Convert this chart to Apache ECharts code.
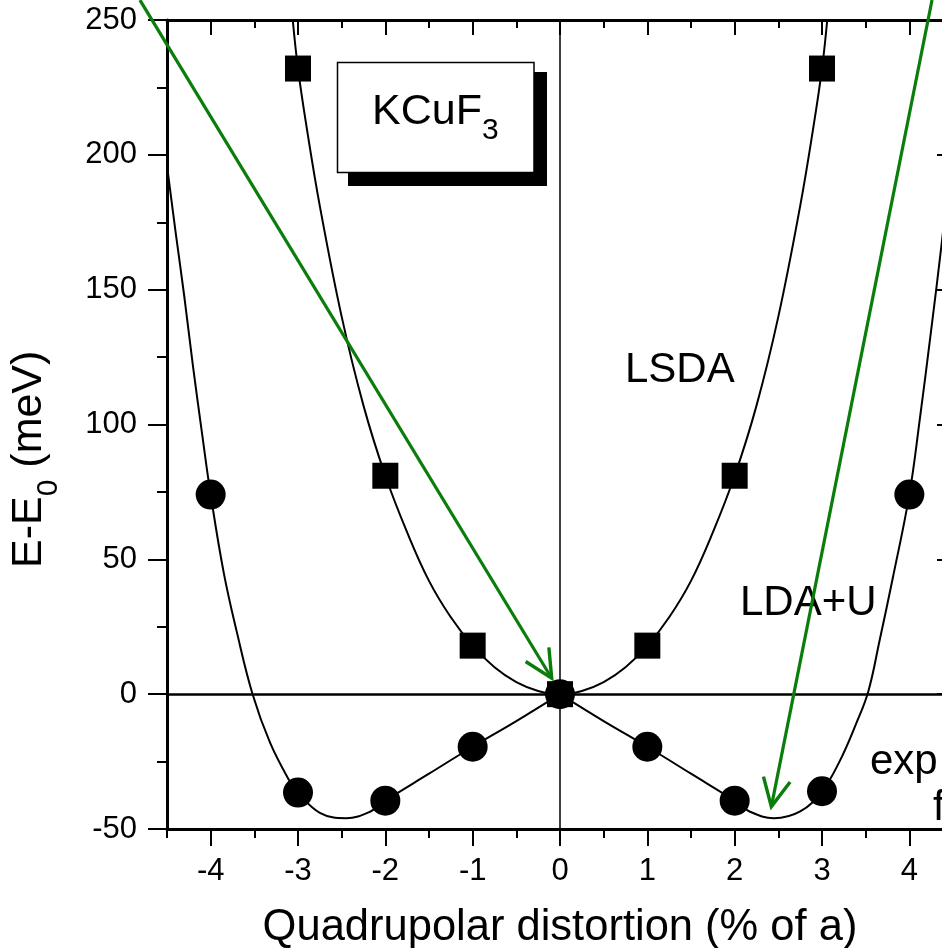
<!DOCTYPE html>
<html>
<head>
<meta charset="utf-8">
<script src="https://cdn.jsdelivr.net/npm/echarts@6/dist/echarts.min.js"></script>
<style>
html,body{margin:0;padding:0;background:#fff;}
#c{width:942px;height:948px;}
</style>
</head>
<body>
<div id="c"></div>
<script>
// ---- data ----
const xTickValues = [-4, -3, -2, -1, 0, 1, 2, 3, 4];

const lsdaX = [-3, -2, -1, 0, 1, 2, 3];
const lsdaE = [232, 81, 18, 0, 18, 81, 232];

const ldauX = [-4, -3, -2, -1, 0, 1, 2, 3, 4];
const ldauE = [74, -36.5, -39.5, -19.5, 0, -19.5, -39.5, -36, 74];

const lsdaFitX = [-3.06, -3, -2.9, -2.75, -2.5, -2.25, -2, -1.75, -1.5, -1.25, -1, -0.75, -0.5, -0.25, 0,
                  0.25, 0.5, 0.75, 1, 1.25, 1.5, 1.75, 2, 2.25, 2.5, 2.75, 2.9, 3, 3.06];
const lsdaFitE = [250, 232, 210, 181, 140, 107, 81, 60, 42, 28.5, 18, 10, 4.5, 1.2, 0,
                  1.2, 4.5, 10, 18, 28.5, 42, 60, 81, 107, 140, 181, 210, 232, 250];

const ldauFitX = [-4.5, -4.4, -4.3, -4.2, -4.1, -4.0, -3.85, -3.7, -3.52, -3.32, -3.1, -3.0, -2.75, -2.45, -2.17, -2.0,
                  -1.5, -1.0, -0.5, 0, 0.5, 1.0, 1.5,
                  2.0, 2.17, 2.45, 2.75, 3.0, 3.2, 3.39, 3.53, 3.66, 3.81, 4.0, 4.12, 4.25, 4.37, 4.5];
const ldauFitE = [196, 171, 147, 121, 97, 74, 45, 23, 0, -18, -32, -36.5, -44, -46, -43.5, -39.5,
                  -29.5, -19.5, -10, 0, -10, -19.5, -29.5,
                  -39.5, -43.5, -46, -43.5, -36, -25, -11, 1, 20, 43, 74, 102, 135, 167, 205];

const arrowFrom = [[-4.81, 257.4], [4.26, 257.4]];
const arrowTo = [[-0.095, 5.9], [2.42, -41.7]];

// ---- chart ----
const F = "'Liberation Sans', Arial, Helvetica, sans-serif";
const GREEN = '#0a7d0a';
const chart = echarts.init(document.getElementById('c'), null, {renderer: 'canvas'});

const zip = (xs, ys) => xs.map((x, i) => [x, ys[i]]);
const ldauFit = zip(ldauFitX, ldauFitE);
const ldauFitLeft = ldauFit.filter(p => p[0] <= 0);
const ldauFitRight = ldauFit.filter(p => p[0] >= 0);

const xAxisBase = {
  type: 'value', min: -4.5, max: 4.5, interval: 1,
  splitLine: {show: false}, minorSplitLine: {show: false},
  axisLine: {show: true, onZero: false, lineStyle: {color: '#000', width: 3}}
};
const yAxisBase = {
  type: 'value', min: -50, max: 250, interval: 50,
  splitLine: {show: false}, minorSplitLine: {show: false},
  axisLine: {show: true, onZero: false, lineStyle: {color: '#000', width: 3}}
};

const fitLine = (name, data) => ({
  name: name, type: 'line', xAxisIndex: 0, yAxisIndex: 0,
  data: data, smooth: 0.4, showSymbol: false, symbol: 'none',
  lineStyle: {color: '#000', width: 2}, z: 2, clip: true
});

const lsdaFitSeries = fitLine('LSDA fit', zip(lsdaFitX, lsdaFitE));
lsdaFitSeries.markLine = {
  silent: true, symbol: ['none', 'none'], label: {show: false},
  data: [
    {yAxis: 0, lineStyle: {color: '#000', width: 2.5, type: 'solid'}},
    {xAxis: 0, lineStyle: {color: '#000', width: 1.5, type: 'solid'}}
  ]
};

chart.setOption({
  animation: false,
  backgroundColor: '#fff',
  grid: {left: 167, width: 786, top: 20, bottom: 119, containLabel: false, outerBoundsMode: 'none'},
  xAxis: [
    Object.assign({}, xAxisBase, {
      position: 'bottom',
      axisTick: {show: true, inside: false, length: 9, lineStyle: {color: '#000', width: 2}},
      minorTick: {show: true, splitNumber: 2, length: 17, lineStyle: {color: '#000', width: 2}},
      axisLabel: {show: true, customValues: xTickValues, fontSize: 31, margin: 27, color: '#000', fontFamily: F},
      name: 'Quadrupolar distortion (% of a)', nameLocation: 'middle', nameGap: 77,
      nameTextStyle: {fontSize: 43.5, color: '#000', fontFamily: F}
    }),
    Object.assign({}, xAxisBase, {
      position: 'top',
      axisTick: {show: true, inside: true, length: 8, lineStyle: {color: '#000', width: 2}},
      minorTick: {show: true, splitNumber: 2, length: 15, lineStyle: {color: '#000', width: 2}},
      axisLabel: {show: false}
    })
  ],
  yAxis: [
    Object.assign({}, yAxisBase, {
      position: 'left',
      axisTick: {show: true, inside: false, length: 19, lineStyle: {color: '#000', width: 2}},
      minorTick: {show: true, splitNumber: 2, length: 10, lineStyle: {color: '#000', width: 2}},
      axisLabel: {show: true, fontSize: 31, margin: 30, color: '#000', fontFamily: F}
    }),
    Object.assign({}, yAxisBase, {
      position: 'right',
      axisTick: {show: true, inside: true, length: 16, lineStyle: {color: '#000', width: 2}},
      minorTick: {show: true, splitNumber: 2, length: 8, lineStyle: {color: '#000', width: 2}},
      axisLabel: {show: false}
    })
  ],
  series: [
    lsdaFitSeries,
    fitLine('LDA+U fit (left)', ldauFitLeft),
    fitLine('LDA+U fit (right)', ldauFitRight),
    {
      name: 'LDA+U', type: 'scatter', xAxisIndex: 0, yAxisIndex: 0,
      data: zip(ldauX, ldauE), symbol: 'circle', symbolSize: 30,
      itemStyle: {color: '#000', opacity: 1}, z: 3
    },
    {
      name: 'LSDA', type: 'scatter', xAxisIndex: 0, yAxisIndex: 0,
      data: zip(lsdaX, lsdaE), symbol: 'rect', symbolSize: 26,
      itemStyle: {color: '#000', opacity: 1}, z: 4
    }
  ]
});

// ---- annotations ----
const mctx = document.createElement('canvas').getContext('2d');
function tw(t, size) { mctx.font = size + 'px ' + F; return mctx.measureText(t).width; }
function txt(text, x, y, size, extra) {
  return Object.assign({
    type: 'text', x: x, y: y, z: 120,
    style: {text: text, fontSize: size, fontFamily: F, fill: '#000',
            align: 'left', verticalAlign: 'middle', textAlign: 'left', textVerticalAlign: 'middle'}
  }, extra || {});
}

function arrow(from, to) {
  const p0 = chart.convertToPixel({gridIndex: 0}, from);
  const p1 = chart.convertToPixel({gridIndex: 0}, to);
  const dx = p1[0] - p0[0], dy = p1[1] - p0[1];
  const L = Math.hypot(dx, dy);
  const bx = -dx / L, by = -dy / L;
  const len = 31, a = 26 * Math.PI / 180;
  const w = s => [p1[0] + len * (bx * Math.cos(s * a) - by * Math.sin(s * a)),
                  p1[1] + len * (bx * Math.sin(s * a) + by * Math.cos(s * a))];
  return [
    {type: 'line', z: 130, shape: {x1: p0[0], y1: p0[1], x2: p1[0], y2: p1[1]},
     style: {stroke: GREEN, lineWidth: 3.2}},
    {type: 'polyline', z: 130, shape: {points: [w(1), p1, w(-1)]},
     style: {stroke: GREEN, lineWidth: 3.4, fill: null, lineJoin: 'miter'}}
  ];
}

const wEE = tw('E-E', 43), w0 = tw('0', 30);
const wK = tw('KCuF', 43);

const graphics = [
  {type: 'rect', z: 110, shape: {x: 348, y: 72, width: 199, height: 114}, style: {fill: '#000'}},
  {type: 'rect', z: 111, shape: {x: 337.5, y: 62.5, width: 196.5, height: 110},
   style: {fill: '#fff', stroke: '#000', lineWidth: 1.5}},
  txt('KCuF', 372, 112.5, 43, {z: 112}),
  txt('3', 372 + wK, 131, 30, {z: 112}),
  txt('LSDA', 625, 370, 42),
  txt('LDA+U', 740, 603, 42),
  txt('exp', 870, 762, 42),
  txt('fit', 933, 808, 42),
  {
    type: 'group', x: 29, y: 568, rotation: Math.PI / 2, z: 120,
    children: [
      txt('E-E', 0, 0, 43),
      txt('0', wEE, 20, 30),
      txt(' (meV)', wEE + w0, 0, 43)
    ]
  }
].concat(arrow(arrowFrom[0], arrowTo[0]), arrow(arrowFrom[1], arrowTo[1]));

chart.setOption({graphic: graphics});
</script>
</body>
</html>
